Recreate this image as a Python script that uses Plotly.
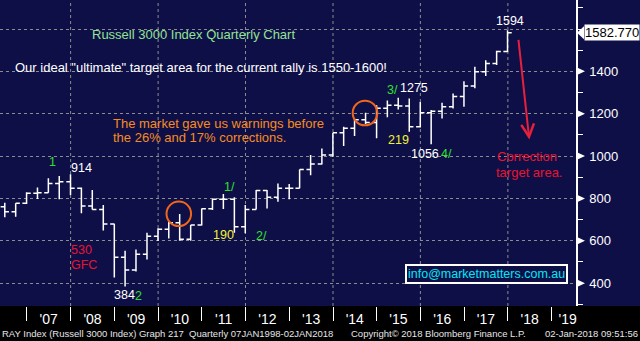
import plotly.graph_objects as go

# Quarterly OHLC of the Russell 3000 (RAY Index), quarter-end dates
quarters = [
    "2006-06-30", "2006-09-29", "2006-12-29",
    "2007-03-30", "2007-06-29", "2007-09-28", "2007-12-31",
    "2008-03-31", "2008-06-30", "2008-09-30", "2008-12-31",
    "2009-03-31", "2009-06-30", "2009-09-30", "2009-12-31",
    "2010-03-31", "2010-06-30", "2010-09-30", "2010-12-31",
    "2011-03-31", "2011-06-30", "2011-09-30", "2011-12-30",
    "2012-03-30", "2012-06-29", "2012-09-28", "2012-12-31",
    "2013-03-28", "2013-06-28", "2013-09-30", "2013-12-31",
    "2014-03-31", "2014-06-30", "2014-09-30", "2014-12-31",
    "2015-03-31", "2015-06-30", "2015-09-30", "2015-12-31",
    "2016-03-31", "2016-06-30", "2016-09-30", "2016-12-30",
    "2017-03-31", "2017-06-30", "2017-09-29", "2017-12-29",
]
open_ = [761, 737, 777, 824, 827, 871, 879, 848, 764, 748, 679,
         522, 462, 536, 621, 654, 685, 607, 674, 751, 796, 796, 666,
         748, 837, 805, 848, 848, 937, 962, 1005, 1110, 1131, 1172, 1158,
         1226, 1240, 1236, 1139, 1205, 1212, 1233, 1281, 1331, 1398, 1437, 1494]
high = [780, 777, 829, 852, 895, 906, 914, 852, 840, 769, 680,
        553, 559, 638, 659, 690, 726, 674, 752, 799, 821, 805, 769,
        840, 840, 871, 868, 937, 1005, 1036, 1110, 1139, 1176, 1205, 1240,
        1262, 1275, 1272, 1255, 1218, 1252, 1296, 1353, 1422, 1453, 1497, 1594]
low = [711, 714, 774, 797, 827, 796, 816, 730, 748, 648, 427,
       384, 455, 512, 599, 611, 600, 600, 672, 745, 750, 638, 635,
       748, 753, 784, 796, 848, 910, 960, 997, 1047, 1095, 1151, 1084,
       1183, 1220, 1115, 1135, 1056, 1178, 1225, 1233, 1320, 1378, 1430, 1492]
close = [737, 777, 824, 827, 871, 879, 848, 764, 748, 679, 522,
         462, 536, 621, 654, 685, 607, 674, 751, 796, 796, 666, 748,
         837, 805, 848, 848, 937, 962, 1005, 1110, 1131, 1172, 1158, 1226,
         1240, 1236, 1139, 1205, 1212, 1233, 1281, 1331, 1398, 1437, 1494, 1582.77]

year_labels = ["'07", "'08", "'09", "'10", "'11", "'12", "'13",
               "'14", "'15", "'16", "'17", "'18", "'19"]
year_label_pos = [f"{y}-07-02" for y in range(2007, 2019)] + ["2019-05-15"]
year_starts = [f"{y}-01-01" for y in range(2007, 2020)]
grid_years = [f"{y}-01-01" for y in range(2008, 2019, 2)]
price_ticks = [400, 600, 800, 1000, 1200, 1400, 1600]

NAVY = "#0f0f48"
FONT = "Liberation Sans, Arial, sans-serif"
W_PLOT, H_PLOT = 576, 306
Y_RANGE = [292, 1737]


def px(x):
    return x / W_PLOT


def py(y):
    return 1 - y / H_PLOT


fig = go.Figure()
fig.add_trace(go.Ohlc(
    x=quarters, open=open_, high=high, low=low, close=close,
    increasing=dict(line=dict(color="white", width=1.5)),
    decreasing=dict(line=dict(color="white", width=1.5)),
    tickwidth=0.4, hoverinfo="skip", showlegend=False,
))

shapes = []
# black footer band
shapes.append(dict(type="rect", xref="paper", yref="paper", x0=0, x1=640 / W_PLOT,
                   y0=-35 / H_PLOT, y1=0, fillcolor="black", line_width=0, layer="below"))
# vertical dashed grid every two years
for g in grid_years:
    shapes.append(dict(type="line", xref="x", yref="paper", x0=g, x1=g, y0=0, y1=1,
                       line=dict(color="#8c8c8c", width=1, dash="3px,3px"), layer="below"))
# triangular markers on the price axis
units_per_px = (Y_RANGE[1] - Y_RANGE[0]) / H_PLOT
hh = 3.5 * units_per_px
for v in price_ticks[:-1]:
    shapes.append(dict(type="path", xref="paper", yref="y",
                       path=f"M {px(577.5)},{v - hh} L {px(577.5)},{v + hh} L {px(585)},{v} Z",
                       fillcolor="white", line_width=0))
# last-price pointer
last = close[-1]
hp = 6.5 * units_per_px
shapes.append(dict(type="path", xref="paper", yref="y",
                   path=f"M {px(577)},{last} L {px(584)},{last + hp} L {px(584)},{last - hp} Z",
                   fillcolor="white", line_width=0))
# orange warning circles
for cx, cy, r in [(178.8, 213.8, 12.3), (365.0, 113.0, 12.3)]:
    shapes.append(dict(type="circle", xref="paper", yref="paper",
                       x0=px(cx - r), x1=px(cx + r), y0=py(cy + r), y1=py(cy - r),
                       line=dict(color="#f0661a", width=2)))

ann = []


def text(t, x, y, color, size=13, xanchor="left", **kw):
    opts = dict(borderpad=0, borderwidth=0)
    opts.update(kw)
    ann.append(dict(text=t, x=px(x), y=py(y), xref="paper", yref="paper",
                    xanchor=xanchor, yanchor="middle", showarrow=False,
                    font=dict(family=FONT, size=size, color=color), **opts))


GREEN = "#2ee02e"
YELLOW = "#f2f230"
RED = "#e8142e"
ORANGE = "#f58c1e"

text("Russell 3000 Index Quarterly Chart", 92, 34, "#92e492")
text('Our ideal "ultimate" target area for the current rally is 1550-1600!', 15, 67, "white")
text("The market gave us warnings before", 113, 123, ORANGE)
text("the 26% and 17% corrections.", 113, 138, ORANGE)
text("1", 48.5, 161.5, GREEN, size=12.5)
text(f"{max(high[:10]):.0f}", 70.5, 168, "white", size=12.5)
text("530", 70.5, 249.5, RED, size=12.5)
text("GFC", 70.5, 264.5, RED, size=12.5)
text(f"{min(low):.0f}", 113.5, 295, "white", size=12.5)
text("2", 134.5, 296, GREEN, size=12.5)
text("1/", 223.5, 187, GREEN, size=12.5)
text("190", 213, 235, YELLOW, size=12.5)
text("2/", 256, 235.5, GREEN, size=12.5)
text("3/", 386.5, 90, GREEN, size=12.5)
text(f"{max(high[30:40]):.0f}", 399.5, 87.7, "white", size=12.5)
text("219", 387.5, 140, YELLOW, size=12.5)
text(f"{min(low[35:]):.0f}", 410.5, 154, "white", size=12.5)
text("4/", 441, 154, GREEN, size=12.5)
text(f"{max(high):.0f}", 510, 20.7, "white", size=12.5, xanchor="center")
text("Correction", 496.5, 156, RED)
text("target area.", 496, 172, RED)
text("info@marketmatters.com.au", 486.5, 274.2, "#00e8f4", size=12.5, xanchor="center",
     bordercolor="white", borderwidth=2, borderpad=1, bgcolor=NAVY)

# last price tag
ann.append(dict(text=f"{last:.3f}", x=px(583.5), y=last, xref="paper", yref="y",
                xanchor="left", yanchor="middle", showarrow=False, bgcolor="white",
                borderpad=0, font=dict(family=FONT, size=13, color="black")))

# correction arrow
ann.append(dict(text="", x=px(529.3), y=py(139.5), xref="paper", yref="paper",
                ax=518.3 - 529.3, ay=38.3 - 139.5, showarrow=True, arrowhead=5,
                arrowsize=1.25, arrowwidth=2, arrowcolor="#e8203c"))

# footer line
FOOT = dict(family=FONT, size=9.5, color="#e6e6e6")
for t, x, anchor in [
    ("RAY Index (Russell 3000 Index) Graph 217  Quarterly 07JAN1998-02JAN2018", 2, "left"),
    ("Copyright\u00a9 2018 Bloomberg Finance L.P.", 351, "left"),
    ("02-Jan-2018 09:51:56", 638, "right"),
]:
    ann.append(dict(text=t, x=px(x), y=py(333), xref="paper", yref="paper",
                    xanchor=anchor, yanchor="middle", showarrow=False, font=FOOT,
                    borderpad=0, borderwidth=0))

fig.update_layout(
    width=640, height=341, autosize=False,
    margin=dict(l=0, r=640 - W_PLOT, t=0, b=341 - H_PLOT),
    paper_bgcolor=NAVY, plot_bgcolor=NAVY,
    showlegend=False,
    shapes=shapes, annotations=ann,
    xaxis=dict(
        type="date", range=["2006-05-21", "2019-07-24"],
        rangeslider=dict(visible=False), showgrid=False, zeroline=False,
        tickmode="array", tickvals=year_label_pos, ticktext=year_labels,
        ticks="", ticklabelstandoff=3,
        tickfont=dict(family=FONT, size=14, color="white"),
        minor=dict(tickmode="array", tickvals=year_starts, ticks="outside",
                   ticklen=14, tickwidth=1, tickcolor="white", showgrid=False),
        showline=False,
    ),
    yaxis=dict(
        side="right", range=Y_RANGE, zeroline=False,
        tickmode="array", tickvals=price_ticks,
        ticktext=[str(v) for v in price_ticks[:-1]] + [""],
        ticks="outside", ticklen=9, tickcolor="rgba(0,0,0,0)",
        tickfont=dict(family=FONT, size=13, color="white"),
        showgrid=True, gridcolor="#8c8c8c", gridwidth=1, griddash="3px,3px",
        showline=True, linecolor="white", linewidth=1.5,
        minor=dict(tickmode="linear", tick0=300, dtick=100, ticks="outside",
                   ticklen=5, tickwidth=1, tickcolor="white", showgrid=False),
    ),
)

fig.write_html("out.html")
